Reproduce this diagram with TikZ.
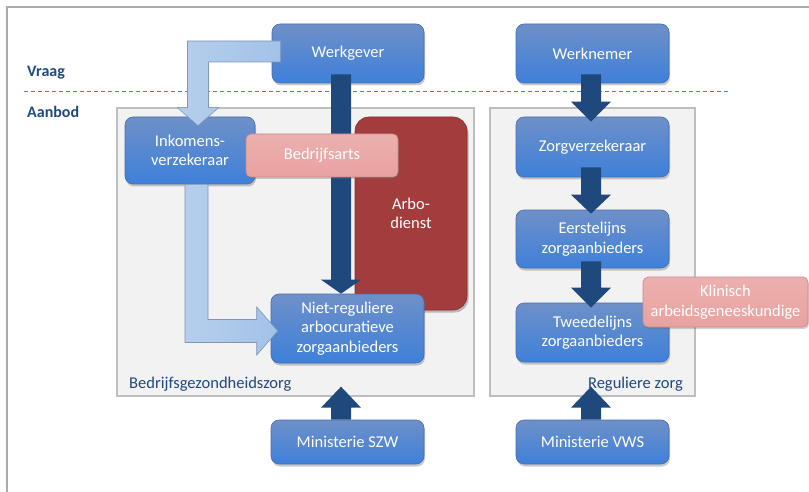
\documentclass[tikz,border=0pt]{standalone}
\usepackage{fontspec}
\setmainfont{Carlito}
\usetikzlibrary{calc,shadows}
\definecolor{boxtop}{RGB}{110,144,200}
\definecolor{boxbot}{RGB}{62,128,218}
\definecolor{boxedge}{RGB}{70,110,175}
\definecolor{darkarr}{RGB}{31,73,125}
\definecolor{lightarr}{RGB}{163,194,232}
\definecolor{lightedge}{RGB}{125,150,185}
\definecolor{arbo}{RGB}{163,60,60}
\definecolor{arboedge}{RGB}{140,45,45}
\definecolor{pinkfill}{RGB}{232,162,160}
\definecolor{pinkedge}{RGB}{205,135,133}
\definecolor{panelfill}{RGB}{242,242,242}
\definecolor{paneledge}{RGB}{190,190,190}
\definecolor{labelblue}{RGB}{31,73,125}
\definecolor{dashblue}{RGB}{79,129,189}
\newcommand\txtsize{\fontsize{16.5}{19.5}\selectfont}
\tikzset{
  bluebox/.style={rounded corners=8pt, draw=boxedge, line width=0.6pt,
    top color=boxtop, bottom color=boxbot, text=white, align=center,
    inner sep=0pt, font=\txtsize,
    drop shadow={shadow xshift=1pt, shadow yshift=-2.5pt, opacity=0.35, fill=black!60}},
  pinkbox/.style={rounded corners=5pt, draw=pinkedge, line width=0.6pt,
    top color=pinkfill!85!white, bottom color=pinkfill, text=white, align=center,
    inner sep=0pt, font=\txtsize,
    drop shadow={shadow xshift=1pt, shadow yshift=-2pt, opacity=0.3, fill=black!60}},
  arbobox/.style={rounded corners=14pt, draw=arboedge, line width=0.6pt,
    fill=arbo, text=white, align=center, inner sep=0pt, font=\txtsize,
    drop shadow={shadow xshift=1.5pt, shadow yshift=-2.5pt, opacity=0.35, fill=black!70}},
  panel/.style={draw=paneledge, line width=1.2pt, fill=panelfill, inner sep=0pt},
  darkarrow/.style={fill=darkarr, draw=none},
  lightarrow/.style={left color=lightarr!80!white, right color=lightarr, draw=lightedge, line width=0.6pt, line join=miter},
  sidelabel/.style={text=labelblue, font=\fontsize{16}{19}\selectfont\bfseries, anchor=west, inner sep=0pt},
  panellabel/.style={text=labelblue, font=\txtsize, inner sep=0pt},
}
\begin{document}
\begin{tikzpicture}[x=1pt,y=-1pt]
\useasboundingbox (0,0) rectangle (809,492);
% outer frame
\draw[paneledge!90!black, line width=1.5pt] (7,520) -- (7,7) -- (830,7);
% dashed line
\coordinate (dl) at (24,91);
\coordinate (dr) at (728,91);
\draw[dashblue, dashed, dash pattern=on 4pt off 3pt, line width=0.8pt] (dl) -- (dr);
\node[sidelabel] (vraag) at (27,73) {Vraag};
\node[sidelabel] (aanbod) at (27,112) {Aanbod};
% panels
\node[panel, minimum width=357pt, minimum height=288pt] (lpanel) at (295.5,252) {};
\node[panel, minimum width=205pt, minimum height=288pt] (rpanel) at (592.5,252) {};
\node[panellabel, anchor=base west] (bgz) at (129,388) {Bedrijfsgezondheidszorg};
\node[panellabel, anchor=base east] (rz) at (683,388) {Reguliere zorg};
% arbodienst
\node[arbobox, minimum width=112pt, minimum height=193pt] (arbo) at (411,213.5) {Arbo-\\dienst};
% blue boxes
\node[bluebox, minimum width=152pt, minimum height=59pt] (wg) at (348,53.5) {Werkgever};
\node[bluebox, minimum width=153pt, minimum height=59pt] (wn) at (592.5,53.5) {Werknemer};
\node[bluebox, minimum width=130pt, minimum height=67pt] (ink) at (190,150.5) {Inkomens-\\verzekeraar};
\node[bluebox, minimum width=153pt, minimum height=69pt] (niet) at (347.5,328.5) {Niet-reguliere\\arbocuratieve\\zorgaanbieders};
\node[bluebox, minimum width=153pt, minimum height=60pt] (zv) at (592.5,147) {Zorgverzekeraar};
\node[bluebox, minimum width=153pt, minimum height=58pt] (eerst) at (592.5,239) {Eerstelijns\\zorgaanbieders};
\node[bluebox, minimum width=153pt, minimum height=59pt] (tweed) at (592.5,332.5) {Tweedelijns\\zorgaanbieders};
\node[bluebox, minimum width=153pt, minimum height=44pt] (szw) at (347.5,442) {Ministerie SZW};
\node[bluebox, minimum width=153pt, minimum height=44pt] (vws) at (592.5,442) {Ministerie VWS};
% dark block arrows
% down arrow: shaft from p1 to head, tip p2, head length h
\newcommand\downblock[3]{%
  \fill[darkarrow] let \p1=(#1), \p2=(#2) in
    (\x2-10pt,\y1) -- (\x2+10pt,\y1) -- (\x2+10pt,\y2+#3) -- (\x2+20pt,\y2+#3) -- (\x2,\y2)
    -- (\x2-20pt,\y2+#3) -- (\x2-10pt,\y2+#3) -- cycle;}
\newcommand\upblock[3]{%
  \fill[darkarrow] let \p1=(#1), \p2=(#2) in
    (\x2-10pt,\y1) -- (\x2+10pt,\y1) -- (\x2+10pt,\y2-#3) -- (\x2+20pt,\y2-#3) -- (\x2,\y2)
    -- (\x2-20pt,\y2-#3) -- (\x2-10pt,\y2-#3) -- cycle;}
\downblock{$(wg.south)+(0,-9)$}{$(niet.north)+(-6.5,0)$}{14pt}
\downblock{$(wn.south)+(0,-9)$}{$(zv.north)+(-1.5,5)$}{20pt}
\downblock{$(zv.south)+(0,-10)$}{$(eerst.north)+(-1.5,4)$}{19pt}
\downblock{$(eerst.south)+(0,-7)$}{$(tweed.north)+(-1.5,5)$}{20pt}
\upblock{szw.north}{$(szw.north)+(-6.5,-33)$}{21pt}
\upblock{vws.north}{$(vws.north)+(-1.5,-33)$}{21pt}
% light elbow arrows
\draw[lightarrow] let \p1=($(wg.west)+(9,-2)$), \p2=($(ink.north)+(8,9)$) in
  (\x1,\y1+10.5pt) -- (\x2-10.5pt,\y1+10.5pt) -- (\x2-10.5pt,\y2+18pt) -- (\x2-20.5pt,\y2+18pt)
  -- (\p2) -- (\x2+20.5pt,\y2+18pt) -- (\x2+10.5pt,\y2+18pt) -- (\x2+10.5pt,\y1-10.5pt)
  -- (\x1,\y1-10.5pt) -- cycle;
\draw[lightarrow] let \p1=($(ink.south)+(6.5,0)$), \p2=($(niet.west)+(7,2.5)$) in
  (\x1-11.5pt,\y1) -- (\x1-11.5pt,\y2-11.5pt) -- (\x2-21pt,\y2-11.5pt) -- (\x2-21pt,\y2-24pt)
  -- (\p2) -- (\x2-21pt,\y2+24pt) -- (\x2-21pt,\y2+11.5pt) -- (\x1+11.5pt,\y2+11.5pt)
  -- (\x1+11.5pt,\y1) -- cycle;
% pink boxes
\node[pinkbox, minimum width=152pt, minimum height=43pt] (ba) at (322,155.5) {Bedrijfsarts};
\node[pinkbox, minimum width=165pt, minimum height=50pt] (kl) at (725.5,302) {Klinisch\\arbeidsgeneeskundige};
\end{tikzpicture}
\end{document}
